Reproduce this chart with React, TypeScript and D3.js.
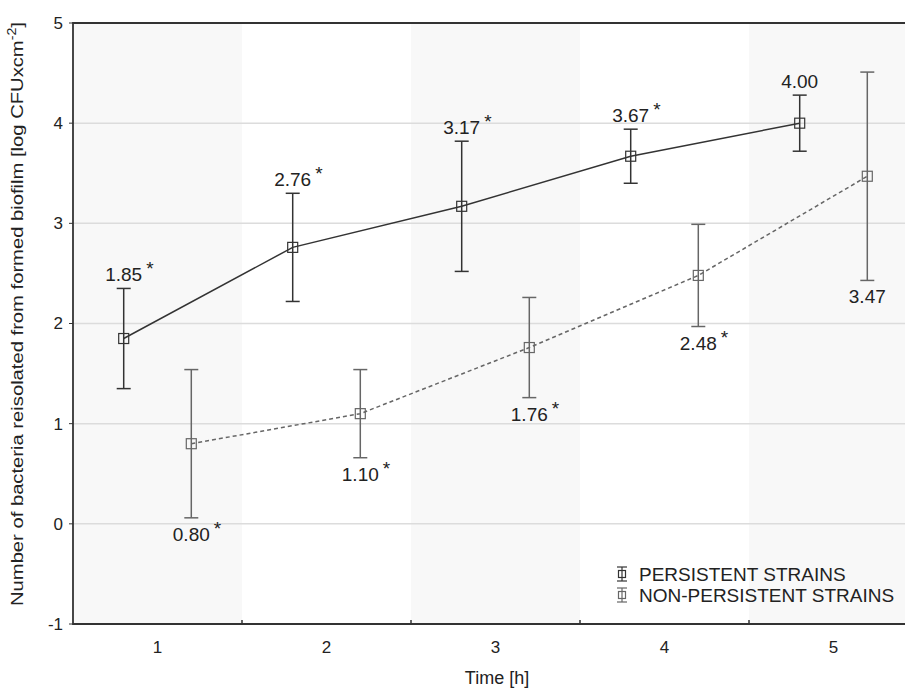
import React, { useEffect, useRef } from "react"
import * as d3 from "d3"

const times = ["1", "2", "3", "4", "5"]
const persistentMean = [1.85, 2.76, 3.17, 3.67, 4.0]
const persistentErr = [0.5, 0.54, 0.65, 0.27, 0.28]
const persistentStar = [true, true, true, true, false]
const nonPersistentMean = [0.8, 1.1, 1.76, 2.48, 3.47]
const nonPersistentErr = [0.74, 0.44, 0.5, 0.51, 1.04]
const nonPersistentStar = [true, true, true, true, false]
const yTicks = [-1, 0, 1, 2, 3, 4, 5]
const legendLabels = ["PERSISTENT STRAINS", "NON-PERSISTENT STRAINS"]

const W = 905
const H = 689
const FONT = "'Liberation Sans', Arial, sans-serif"

export default function App() {
  const ref = useRef<SVGSVGElement>(null)

  useEffect(() => {
    const svg = d3.select(ref.current)
    svg.selectAll("*").remove()

    const left = 73
    const right = 918
    const top = 23
    const bottom = 624

    const x = d3.scaleBand().domain(times).range([left, right]).padding(0)
    const y = d3.scaleLinear().domain([-1, 5]).range([bottom, top])
    const bw = x.bandwidth()

    // alternating bands
    svg
      .selectAll("rect.band")
      .data(times)
      .enter()
      .append("rect")
      .attr("x", (d) => x(d)!)
      .attr("y", top)
      .attr("width", bw)
      .attr("height", bottom - top)
      .attr("fill", (d, i) => (i % 2 === 0 ? "#f8f8f8" : "#ffffff"))

    // grid
    svg
      .selectAll("line.grid")
      .data(yTicks.filter((t) => t > -1 && t < 5))
      .enter()
      .append("line")
      .attr("x1", left)
      .attr("x2", right)
      .attr("y1", (d) => y(d))
      .attr("y2", (d) => y(d))
      .attr("stroke", "#dcdcdc")
      .attr("stroke-width", 1.5)

    // frame
    svg
      .append("path")
      .attr("d", `M${right},${top}H${left}V${bottom}H${right}`)
      .attr("fill", "none")
      .attr("stroke", "#333")
      .attr("stroke-width", 1.8)

    // y ticks
    yTicks.forEach((t) => {
      svg
        .append("line")
        .attr("x1", left - 4)
        .attr("x2", left)
        .attr("y1", y(t))
        .attr("y2", y(t))
        .attr("stroke", "#333")
      svg
        .append("text")
        .attr("x", left - 10)
        .attr("y", y(t))
        .attr("dy", "0.35em")
        .attr("text-anchor", "end")
        .attr("font-family", FONT)
        .attr("font-size", 17)
        .attr("fill", "#222")
        .text(t)
    })

    // x ticks at band boundaries, labels at centers
    times.forEach((t, i) => {
      if (i > 0) {
        svg
          .append("line")
          .attr("x1", x(t)!)
          .attr("x2", x(t)!)
          .attr("y1", bottom)
          .attr("y2", bottom - 4)
          .attr("stroke", "#333")
          .attr("stroke-width", 1.5)
      }
      svg
        .append("text")
        .attr("x", x(t)! + bw / 2)
        .attr("y", bottom + 29)
        .attr("text-anchor", "middle")
        .attr("font-family", FONT)
        .attr("font-size", 17)
        .attr("fill", "#222")
        .text(t)
    })

    // axis titles
    svg
      .append("text")
      .attr("x", 497)
      .attr("y", 684)
      .attr("text-anchor", "middle")
      .attr("font-family", FONT)
      .attr("font-size", 18)
      .attr("fill", "#222")
      .text("Time [h]")

    const yt = svg
      .append("text")
      .attr("transform", `translate(23,${(22 + 606) / 2}) rotate(-90)`)
      .attr("text-anchor", "middle")
      .attr("font-family", FONT)
      .attr("font-size", 17)
      .attr("fill", "#222")
      .attr("textLength", 584)
      .attr("lengthAdjust", "spacingAndGlyphs")
    yt.append("tspan").text("Number of bacteria reisolated from formed biofilm [log CFUxcm")
    yt.append("tspan").attr("dy", -7).attr("font-size", 12).text("-2")
    yt.append("tspan").attr("dy", 7).text("]")

    const series = [
      {
        mean: persistentMean,
        err: persistentErr,
        star: persistentStar,
        off: -0.2,
        color: "#333",
        dash: null as string | null,
        above: true,
      },
      {
        mean: nonPersistentMean,
        err: nonPersistentErr,
        star: nonPersistentStar,
        off: 0.2,
        color: "#666",
        dash: "4,3",
        above: false,
      },
    ]

    series.forEach((s) => {
      const px = (i: number) => x(times[i])! + bw / 2 + s.off * bw
      const line = d3
        .line<number>()
        .x((d, i) => px(i))
        .y((d) => y(d))
      svg
        .append("path")
        .datum(s.mean)
        .attr("d", line)
        .attr("fill", "none")
        .attr("stroke", s.color)
        .attr("stroke-width", 1.5)
        .attr("stroke-dasharray", s.dash)

      s.mean.forEach((m, i) => {
        const cx = px(i)
        const y1 = y(m + s.err[i])
        const y0 = y(m - s.err[i])
        const g = svg.append("g").attr("stroke", s.color).attr("stroke-width", 1.5)
        g.append("line").attr("x1", cx).attr("x2", cx).attr("y1", y1).attr("y2", y0)
        g.append("line").attr("x1", cx - 7).attr("x2", cx + 7).attr("y1", y1).attr("y2", y1)
        g.append("line").attr("x1", cx - 7).attr("x2", cx + 7).attr("y1", y0).attr("y2", y0)
        g.append("rect")
          .attr("x", cx - 5)
          .attr("y", y(m) - 5)
          .attr("width", 10)
          .attr("height", 10)
          .attr("fill", "none")
          .attr("stroke-width", 1.2)

        const ly = s.above ? y1 - 7 : y0 + 23
        const label = svg
          .append("text")
          .attr("x", cx)
          .attr("y", ly)
          .attr("text-anchor", "middle")
          .attr("font-family", FONT)
          .attr("font-size", 19)
          .attr("fill", "#222")
          .text(m.toFixed(2))
        if (s.star[i]) {
          const w = (label.node() as SVGTextElement).getComputedTextLength()
          svg
            .append("text")
            .attr("x", cx + w / 2 + 4)
            .attr("y", ly - 6)
            .attr("font-family", FONT)
            .attr("font-size", 19)
            .attr("fill", "#222")
            .text("*")
        }
      })
    })

    // legend
    legendLabels.forEach((lab, i) => {
      const ly = 574 + i * 21
      const color = series[i].color
      const g = svg.append("g").attr("stroke", color).attr("stroke-width", 1.2)
      const lx = 622
      g.append("line").attr("x1", lx).attr("x2", lx).attr("y1", ly - 7).attr("y2", ly + 7)
      g.append("line").attr("x1", lx - 5).attr("x2", lx + 5).attr("y1", ly - 7).attr("y2", ly - 7)
      g.append("line").attr("x1", lx - 5).attr("x2", lx + 5).attr("y1", ly + 7).attr("y2", ly + 7)
      g.append("rect").attr("x", lx - 3.5).attr("y", ly - 3.5).attr("width", 7).attr("height", 7).attr("fill", "none")
      svg
        .append("text")
        .attr("x", 639)
        .attr("y", ly)
        .attr("dy", "0.35em")
        .attr("font-family", FONT)
        .attr("font-size", 19)
        .attr("fill", "#222")
        .text(lab)
    })
  }, [])

  return <svg ref={ref} width={W} height={H} style={{ display: "block", position: "absolute", left: 0, top: 0, background: "#fff" }} />
}
